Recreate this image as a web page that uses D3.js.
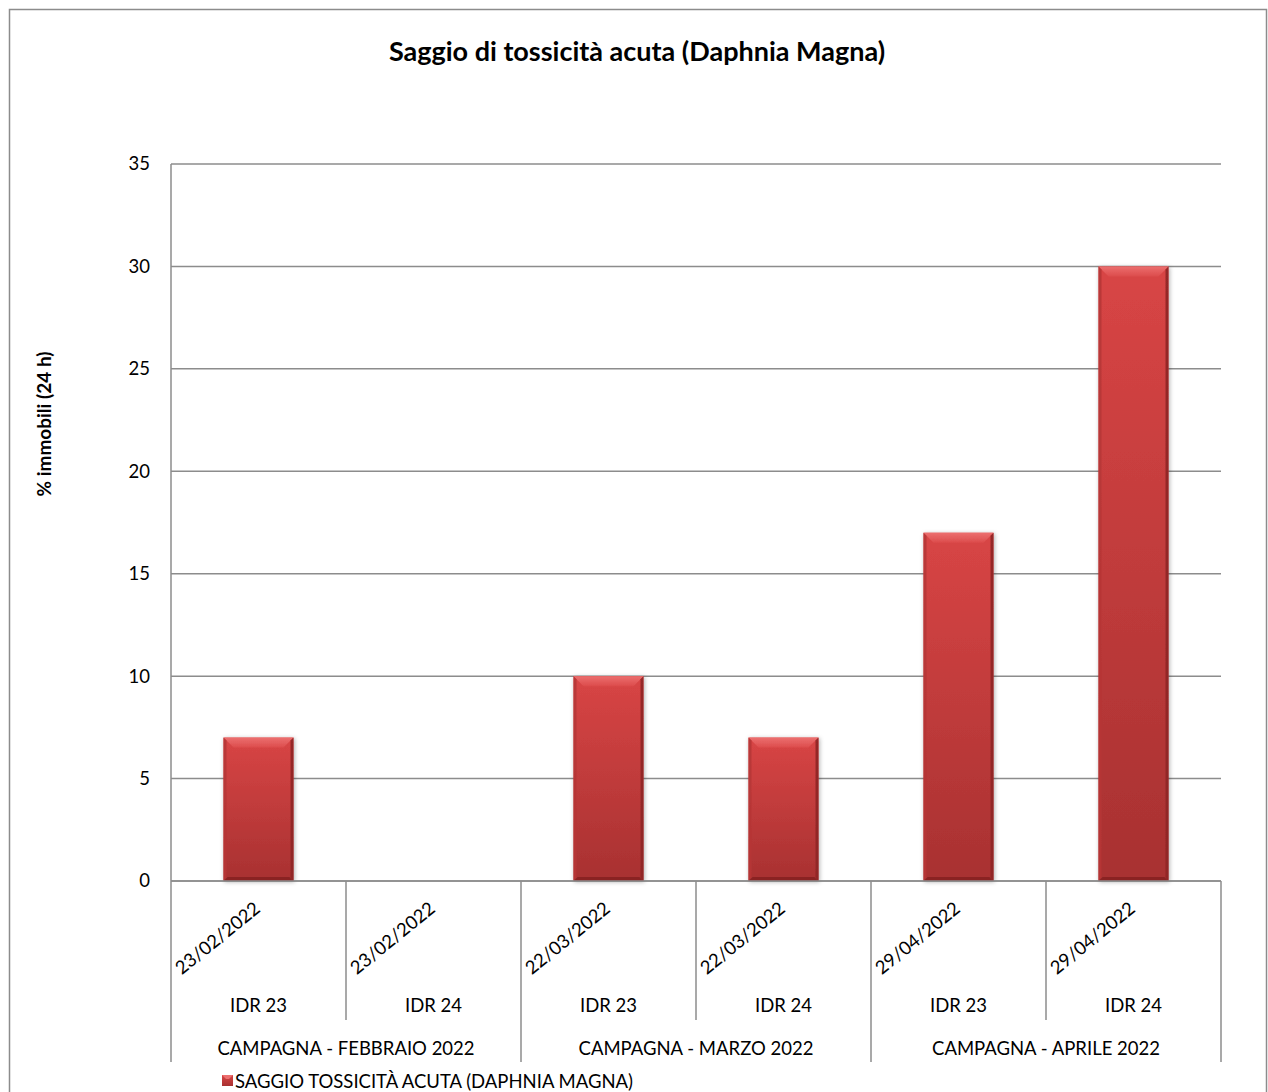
<!DOCTYPE html>
<html>
<head>
<meta charset="utf-8">
<script src="https://cdn.jsdelivr.net/npm/d3@7"></script>
<style>
  html, body { margin: 0; padding: 0; background: #fff; }
  svg { display: block; }
  text { font-family: Lato, "Open Sans", sans-serif; fill: #000; }
</style>
</head>
<body>
<svg id="chart" width="1268" height="1092"></svg>
<script>
// Campaign groups, stations, sampling dates and % immobilised organisms (24 h)
const groups = ["CAMPAGNA - FEBBRAIO 2022", "CAMPAGNA - MARZO 2022", "CAMPAGNA - APRILE 2022"];
const stations = ["IDR 23", "IDR 24", "IDR 23", "IDR 24", "IDR 23", "IDR 24"];
const dates = ["23/02/2022", "23/02/2022", "22/03/2022", "22/03/2022", "29/04/2022", "29/04/2022"];
const groupOf = [0, 0, 1, 1, 2, 2];
const values = [7, 0, 10, 7, 17, 30];
const yTicks = [0, 5, 10, 15, 20, 25, 30, 35];

const title = "Saggio di tossicità acuta (Daphnia Magna)";
const yTitle = "% immobili (24 h)";
const seriesName = "SAGGIO TOSSICITÀ ACUTA (DAPHNIA MAGNA)";

const svg = d3.select("#chart");
const plot = { left: 171, right: 1221, top: 164, bottom: 881 };
const gridColor = "#8c8c8c";
const labelSize = 18.5;

// Outer chart frame
svg.append("rect")
  .attr("x", 9.5).attr("y", 9.5)
  .attr("width", 1257).attr("height", 1100)
  .attr("fill", "#fff").attr("stroke", gridColor).attr("stroke-width", 1.5);

const idx = d3.range(values.length);
const x = d3.scaleBand().domain(idx).range([plot.left, plot.right]).paddingInner(0).paddingOuter(0);
const y = d3.scaleLinear().domain([0, 35]).range([plot.bottom, plot.top]);

// Gradients and shadow
const defs = svg.append("defs");
const gMain = defs.append("linearGradient").attr("id", "barMain").attr("x1", 0).attr("y1", 0).attr("x2", 0).attr("y2", 1);
gMain.append("stop").attr("offset", "0%").attr("stop-color", "#d84545");
gMain.append("stop").attr("offset", "100%").attr("stop-color", "#a83131");
const gTop = defs.append("linearGradient").attr("id", "barTop").attr("x1", 0).attr("y1", 0).attr("x2", 0).attr("y2", 1);
gTop.append("stop").attr("offset", "0%").attr("stop-color", "#ec6f6f");
gTop.append("stop").attr("offset", "100%").attr("stop-color", "#dc4c4c");
const shadow = defs.append("filter").attr("id", "barShadow").attr("x", "-20%").attr("y", "-10%").attr("width", "140%").attr("height", "120%");
shadow.append("feDropShadow").attr("dx", 1).attr("dy", 1).attr("stdDeviation", 2).attr("flood-color", "#000").attr("flood-opacity", 0.3);

// Horizontal gridlines
svg.append("g").selectAll("line").data(yTicks).join("line")
  .attr("x1", plot.left).attr("x2", plot.right)
  .attr("y1", d => y(d)).attr("y2", d => y(d))
  .attr("stroke", gridColor).attr("stroke-width", 1.5);

// Y axis line and tick labels
svg.append("line")
  .attr("x1", plot.left).attr("x2", plot.left)
  .attr("y1", plot.top).attr("y2", plot.bottom)
  .attr("stroke", gridColor).attr("stroke-width", 1.5);
svg.append("g").selectAll("text").data(yTicks).join("text")
  .attr("x", 150).attr("y", d => y(d))
  .attr("dy", "0.35em")
  .attr("text-anchor", "end")
  .attr("font-size", labelSize)
  .text(d => d);

// Bars with bevelled edges
const barW = 70;
const bars = svg.append("g");
idx.forEach(i => {
  const v = values[i];
  if (v <= 0) return;
  const cx = x(i) + x.bandwidth() / 2;
  const x0 = cx - barW / 2, x1 = cx + barW / 2;
  const y0 = y(v), y1 = y(0);
  const b = Math.min(10, (y1 - y0) / 2);
  const g = bars.append("g").attr("filter", "url(#barShadow)");
  g.append("rect").attr("x", x0).attr("y", y0).attr("width", barW).attr("height", y1 - y0).attr("fill", "url(#barMain)");
  // top bevel
  g.append("path").attr("d", `M${x0},${y0} L${x1},${y0} L${x1 - b},${y0 + b} L${x0 + b},${y0 + b} Z`).attr("fill", "url(#barTop)");
  // side bevels
  g.append("path").attr("d", `M${x0},${y0} L${x0 + 3},${y0 + 3} L${x0 + 3},${y1 - 3} L${x0},${y1} Z`).attr("fill", "#b63636").attr("opacity", 0.9);
  g.append("path").attr("d", `M${x1},${y0} L${x1 - 3},${y0 + 3} L${x1 - 3},${y1 - 3} L${x1},${y1} Z`).attr("fill", "#8e2626").attr("opacity", 0.9);
  // bottom bevel
  g.append("path").attr("d", `M${x0},${y1} L${x1},${y1} L${x1 - 4},${y1 - 4} L${x0 + 4},${y1 - 4} Z`).attr("fill", "#8a2424");
});

// Category axis: dividers between stations and campaigns
const axisG = svg.append("g");
axisG.append("line")
  .attr("x1", plot.left).attr("x2", plot.right)
  .attr("y1", plot.bottom).attr("y2", plot.bottom)
  .attr("stroke", gridColor).attr("stroke-width", 1.5);
const edges = d3.range(values.length + 1);
axisG.selectAll("line.div").data(edges).join("line")
  .attr("class", "div")
  .attr("x1", i => i < values.length ? x(i) : plot.right)
  .attr("x2", i => i < values.length ? x(i) : plot.right)
  .attr("y1", plot.bottom)
  .attr("y2", i => (i === 0 || i === values.length || groupOf[i] !== groupOf[i - 1]) ? 1062 : 1020)
  .attr("stroke", gridColor).attr("stroke-width", 1.5);

// Rotated date labels
axisG.selectAll("text.date").data(idx).join("text")
  .attr("class", "date")
  .attr("transform", i => `translate(${x(i) + x.bandwidth() / 2 - 41},${938}) rotate(-39)`)
  .attr("text-anchor", "middle")
  .attr("dy", "0.35em")
  .attr("font-size", labelSize)
  .text(i => dates[i]);

// Station labels
axisG.selectAll("text.st").data(idx).join("text")
  .attr("class", "st")
  .attr("x", i => x(i) + x.bandwidth() / 2)
  .attr("y", 1012)
  .attr("text-anchor", "middle")
  .attr("font-size", labelSize)
  .text(i => stations[i]);

// Campaign labels centred under their stations
axisG.selectAll("text.grp").data(groups).join("text")
  .attr("class", "grp")
  .attr("x", (d, gi) => {
    const members = idx.filter(i => groupOf[i] === gi);
    return (x(members[0]) + x(members[members.length - 1]) + x.bandwidth()) / 2;
  })
  .attr("y", 1055)
  .attr("text-anchor", "middle")
  .attr("font-size", labelSize)
  .text(d => d);

// Title
svg.append("text")
  .attr("x", 637).attr("y", 61)
  .attr("text-anchor", "middle")
  .attr("font-size", 27).attr("font-weight", "bold")
  .text(title);

// Y axis title
svg.append("text")
  .attr("transform", "translate(51,424) rotate(-90)")
  .attr("text-anchor", "middle")
  .attr("font-size", 19).attr("font-weight", "bold")
  .text(yTitle);

// Legend
const lg = svg.append("g").attr("transform", "translate(222,1075)");
lg.append("rect").attr("width", 11).attr("height", 11).attr("fill", "url(#barMain)");
lg.append("path").attr("d", "M0,0 L11,0 L7,4 L4,4 Z").attr("fill", "#ec6f6f");
lg.append("text").attr("x", 13).attr("y", 12.5).attr("font-size", labelSize).text(seriesName);
</script>
</body>
</html>
